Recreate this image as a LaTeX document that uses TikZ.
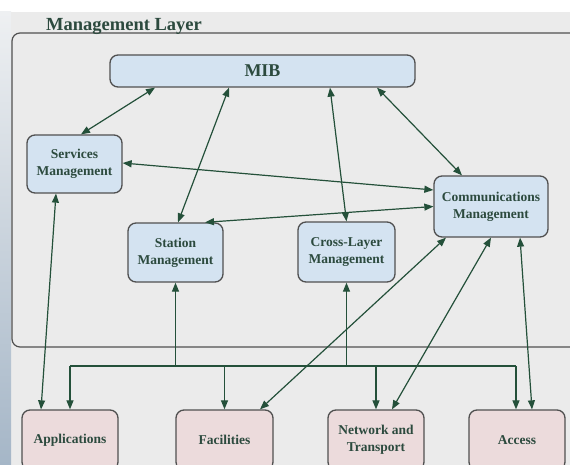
\documentclass[tikz,border=0pt]{standalone}
\usepackage{fontspec}
\setmainfont{Liberation Serif}
\usetikzlibrary{arrows.meta}
\definecolor{bgray}{HTML}{EBEBEB}
\definecolor{boxblue}{HTML}{D4E3F1}
\definecolor{boxpink}{HTML}{ECDBDC}
\definecolor{bordc}{HTML}{505050}
\definecolor{txtc}{HTML}{2C4A3E}
\definecolor{arrc}{HTML}{24503A}
\definecolor{stripb}{HTML}{A5B6C7}
\definecolor{stript}{HTML}{EEF0F2}
\tikzset{
  box/.style={draw=bordc, line width=1.3pt, rounded corners=8pt, align=center,
    text=txtc, font=\bfseries\fontsize{13.5}{17}\selectfont, inner sep=2pt},
  mgmt/.style={box, fill=boxblue},
  layer/.style={box, fill=boxpink},
  conn/.style={draw=arrc, line width=1.2pt, -{Triangle[length=9pt,width=7pt]}},
  biconn/.style={draw=arrc, line width=1.2pt, {Triangle[length=9pt,width=7pt]}-{Triangle[length=9pt,width=7pt]}},
  busline/.style={draw=arrc, line width=1.2pt}
}
\begin{document}
\begin{tikzpicture}[x=1pt,y=-1pt]
\useasboundingbox (0,0) rectangle (570,465);
\clip (0,0) rectangle (570,465);
\fill[white] (0,0) rectangle (570,465);
\fill[bgray] (11,12) rectangle (570,465);
\shade[top color=stript, bottom color=stripb] (0,12) rectangle (11,465);
\draw[bordc, line width=1.2pt, rounded corners=8pt] (12,33) rectangle (585,347);
\node[anchor=base west, text=txtc, font=\bfseries\fontsize{18.5}{20}\selectfont, inner sep=0pt] (title) at (46,30.5) {Management Layer};

\node[mgmt, minimum width=305pt, minimum height=32pt, font=\bfseries\fontsize{18}{20}\selectfont] (mib) at (262.5,71) {MIB};
\node[mgmt, minimum width=95pt, minimum height=58pt] (serv) at (74.5,164) {Services\\Management};
\node[mgmt, minimum width=95pt, minimum height=59pt] (stat) at (175.5,252.5) {Station\\Management};
\node[mgmt, minimum width=97pt, minimum height=60pt] (cross) at (346.5,252) {Cross-Layer\\Management};
\node[mgmt, minimum width=114pt, minimum height=61pt] (comm) at (491,206.5) {Communications\\Management};

\node[layer, minimum width=96pt, minimum height=60pt] (app) at (70,440) {Applications};
\node[layer, minimum width=97pt, minimum height=60pt] (fac) at (224.5,440) {Facilities};
\node[layer, minimum width=96pt, minimum height=60pt] (net) at (376,440) {Network and\\Transport};
\node[layer, minimum width=96pt, minimum height=60pt] (acc) at (517,440) {Access};

% MIB links
\draw[biconn] ([xshift=-107.5pt]mib.south) -- ([xshift=6.5pt]serv.north);
\draw[biconn] ([xshift=-33.5pt]mib.south) -- ([xshift=2.5pt]stat.north);
\draw[biconn] ([xshift=67.5pt]mib.south) -- (cross.north);
\draw[biconn] ([xshift=114.5pt]mib.south) -- ([xshift=-29pt]comm.north);
% Communications links
\draw[biconn] ([yshift=1pt]serv.east) -- ([yshift=16.5pt]comm.west);
\draw[biconn] ([xshift=29.5pt]stat.north) -- (comm.west);
\draw[biconn] ([xshift=35.5pt]fac.north) -- ([xshift=-45pt]comm.south);
\draw[biconn] ([xshift=16pt]net.north) -- (comm.south);
\draw[biconn] ([xshift=15pt]acc.north) -- ([xshift=29pt]comm.south);
% Services to Applications
\draw[biconn] ([xshift=-18.5pt]serv.south) -- ([xshift=-29pt]app.north);
% bus
\coordinate (busL) at (70,366);
\coordinate (busR) at (516,366);
\draw[busline] (busL) -- (busR);
\draw[conn] (stat.south |- busL) -- (stat.south);
\draw[conn] (cross.south |- busL) -- (cross.south);
\draw[conn] (busL) -- (app.north -| busL);
\draw[conn] (fac.north |- busL) -- (fac.north);
\draw[conn] (net.north |- busL) -- (net.north);
\draw[conn] (busR) -- (acc.north -| busR);
\end{tikzpicture}
\end{document}
